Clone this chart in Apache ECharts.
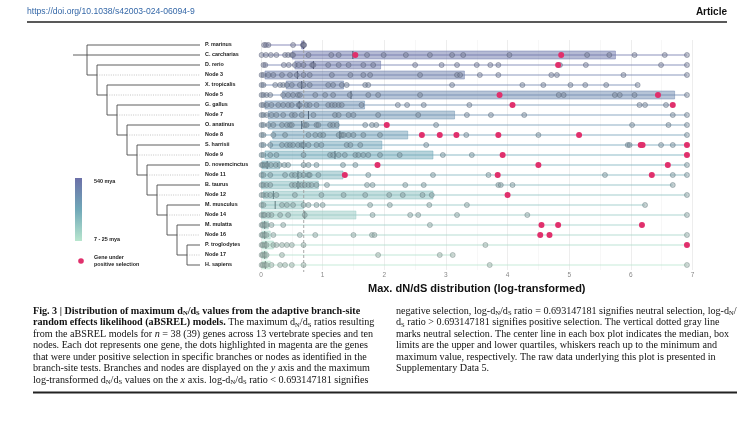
<!DOCTYPE html>
<html><head><meta charset="utf-8">
<script src="https://cdn.jsdelivr.net/npm/echarts@6/dist/echarts.min.js"></script>
<style>html,body{margin:0;padding:0;background:#fff}#c{width:755px;height:421px}</style>
</head><body><div id="c"></div>
<script>
// ---------- data ----------
const rowNames = ['P. marinus','C. carcharias','D. rerio','Node 3','X. tropicalis','Node 5','G. gallus','Node 7','O. anatinus','Node 8','S. harrisii','Node 9','D. novemcinctus','Node 11','B. taurus','Node 12','M. musculus','Node 14','M. mulatta','Node 16','P. troglodytes','Node 17','H. sapiens'];

const greyDots = [
  [0.05,0.08,0.12,0.52,0.68,0.69,0.70],
  [0.01,0.08,0.16,0.25,0.39,0.44,0.5,0.52,0.77,1.14,1.26,1.72,1.99,2.35,2.74,3.10,3.28,4.03,5.29,5.65,6.06,6.55,6.91],
  [0.04,0.07,0.37,0.45,0.55,0.61,0.69,0.83,0.85,1.09,1.26,1.42,1.66,1.82,2.5,2.93,3.18,3.5,3.72,3.85,4.85,5.27,6.49,6.91],
  [0.01,0.04,0.12,0.2,0.34,0.47,0.58,0.69,0.79,1.15,1.45,1.66,1.77,2.58,3.18,3.23,3.55,3.85,4.71,4.80,5.88,6.91],
  [0.01,0.04,0.23,0.31,0.36,0.42,0.5,0.63,0.69,0.79,1.09,1.17,1.31,1.39,1.69,1.74,3.10,4.24,4.58,5.02,5.26,5.6,6.11],
  [0.01,0.04,0.09,0.15,0.36,0.44,0.52,0.6,0.63,0.88,1.04,1.17,1.44,1.74,1.9,2.58,4.83,4.91,5.74,5.82,6.06,6.91],
  [0.01,0.04,0.09,0.17,0.28,0.36,0.44,0.5,0.61,0.63,0.74,0.79,0.9,1.09,1.15,1.2,1.26,1.31,1.63,2.22,2.37,2.64,3.38,6.14,6.23,6.57],
  [0.01,0.04,0.09,0.17,0.25,0.36,0.5,0.55,0.66,0.85,1.2,1.26,1.42,1.5,1.9,2.55,3.34,3.73,4.27,6.68,6.91],
  [0.01,0.04,0.12,0.2,0.34,0.42,0.47,0.5,0.71,0.74,0.9,0.93,1.12,1.17,1.23,1.69,1.8,1.87,2.84,6.02,6.61,6.91],
  [0.01,0.04,0.2,0.39,0.77,0.88,0.96,1.01,1.26,1.31,1.34,1.42,1.5,1.66,1.93,3.33,4.5,6.91],
  [0.01,0.04,0.15,0.34,0.42,0.47,0.52,0.6,0.66,0.69,0.77,0.9,0.98,1.39,1.45,1.61,2.68,5.95,5.98,6.49,6.68],
  [0.01,0.04,0.15,0.25,0.69,1.12,1.17,1.26,1.36,1.53,1.58,1.66,1.74,1.93,2.25,2.95,3.42],
  [0.01,0.03,0.06,0.1,0.16,0.24,0.3,0.38,0.44,0.69,0.77,0.9,1.33,1.53,6.91],
  [0.01,0.04,0.15,0.39,0.5,0.55,0.63,0.69,0.77,0.79,0.93,1.74,2.79,3.69,5.58,6.68,6.91],
  [0.01,0.04,0.09,0.15,0.5,0.55,0.61,0.66,0.71,0.77,0.82,0.9,1.07,1.72,1.81,2.34,2.64,3.85,3.89,4.08,6.68],
  [0.01,0.04,0.09,0.15,0.25,0.55,0.98,1.34,1.69,2.08,2.3,2.62,2.77,6.91],
  [0.01,0.04,0.34,0.42,0.52,0.69,0.77,0.9,1.0,1.77,2.09,2.73,3.34,6.23],
  [0.01,0.04,0.06,0.12,0.17,0.31,0.44,0.71,1.81,2.42,2.55,3.18,4.32,6.91],
  [0.01,0.03,0.06,0.09,0.17,0.36,2.74],
  [0.01,0.03,0.06,0.09,0.2,0.63,0.88,1.5,1.8,1.84,6.91],
  [0.01,0.03,0.06,0.09,0.2,0.25,0.34,0.42,0.5,0.69,3.64],
  [0.01,0.03,0.06,0.09,0.34,1.9,2.9,3.11],
  [0.01,0.03,0.06,0.09,0.17,0.31,0.39,0.5,0.69,3.71,6.91]
];

const positiveDots = [
  [], [1.53,4.87], [4.82], [], [], [3.87,6.44], [4.08,6.68], [], [2.04], [2.61,2.9,3.17,3.85,5.16],
  [6.16,6.19,6.91], [3.92,6.91], [1.89,4.5,6.6], [1.36,3.84,6.34], [], [4.0], [], [],
  [4.55,4.82,6.18], [4.53,4.68], [6.91], [], []
];

const boxQ1     = [0.66,0.51,0.55,0.065,0.41,0.35,0.065,0.12,0.12,0.19,0.15,0.065,0.02,0.01,0.01,0.04,0.01,0.01,0.02,0.02,0.02,0.02,0.02];
const boxMedian = [0.69,1.49,0.85,0.59,0.66,1.46,0.62,0.77,0.66,1.28,0.69,1.20,0.10,0.60,0.60,0.20,0.23,0.71,0.06,0.06,0.08,0.06,0.07];
const boxQ3     = [0.70,5.75,1.94,3.30,1.34,6.71,1.68,3.14,1.26,2.38,1.96,2.79,0.30,1.33,0.93,2.79,0.69,1.54,0.12,0.15,0.20,0.10,0.15];

const xTicks = [0,1,2,3,4,5,6,7];
const neutralRatio = 0.693147181;

// tree (ladder): clade node depth, species row on top, row of lower child
const cladeLevel     = [0,1,2,3,4,5,6,7,8,9,10];
const cladeTopRow    = [0,2,4,6,8,10,12,14,16,18,20];
const cladeBottomRow = [3,5,7,9,11,13,15,17,19,21,22];
const outgroupRow = 1, outgroupLevel = -1.4, tipLevel = 11.3;

const legendTexts = ['540 mya','7 - 25 mya','Gene under','positive selection'];

// ---------- styling helpers ----------
function mix(a,b,t){return a.map((v,k)=>Math.round(v+(b[k]-v)*t));}
function rgba(c,a){return 'rgba('+c[0]+','+c[1]+','+c[2]+','+a+')';}
const stops = [[108,112,168],[112,168,184],[184,230,206]];
function rowRGB(i){
  const t = i/(rowNames.length-1);
  return t<0.5 ? mix(stops[0],stops[1],t/0.5) : mix(stops[1],stops[2],(t-0.5)/0.5);
}
const MAG = '#e0306c';

// ---------- series data ----------
const boxData = rowNames.map((_,i)=>{
  const all = greyDots[i].concat(positiveDots[i]);
  return [Math.min.apply(null,all), i, boxQ1[i], boxMedian[i], boxQ3[i], Math.max.apply(null,all)];
});
const greyData = [];
greyDots.forEach((arr,i)=>arr.forEach(v=>{
  const c = rowRGB(i);
  greyData.push({value:[v,i], itemStyle:{
    color: rgba(mix(c,[140,142,146],0.62),0.6),
    borderColor: rgba(mix(c,[60,62,70],0.55),0.8), borderWidth:0.7}});
}));
const posData = [];
positiveDots.forEach((arr,i)=>arr.forEach(v=>posData.push([v,i])));
const treeData = cladeLevel.map((l,k)=>[l, cladeTopRow[k], cladeBottomRow[k]]);
treeData.push([outgroupLevel, outgroupRow, outgroupRow]);

const serif = 'Liberation Serif';
const FS = 10.15;
const capRich = {
  b:{fontFamily:serif,fontWeight:'bold',fontSize:FS,lineHeight:12,fill:'#111'},
  bs:{fontFamily:serif,fontWeight:'bold',fontSize:6.6,lineHeight:6,verticalAlign:'bottom',fill:'#111'},
  n:{fontFamily:serif,fontSize:FS,lineHeight:12,fill:'#111'},
  s:{fontFamily:serif,fontSize:6.6,lineHeight:6,verticalAlign:'bottom',fill:'#111'},
  i:{fontFamily:serif,fontStyle:'italic',fontSize:FS,lineHeight:12,fill:'#111'}
};
const capLeft = [
  '{b|Fig. 3 | Distribution of maximum d}{bs|N}{b|/d}{bs|S}{b| values from the adaptive branch-site}',
  '{b|random effects likelihood (aBSREL) models.}{n| The maximum d}{s|N}{n|/d}{s|S}{n| ratios resulting}',
  '{n|from the aBSREL models for }{i|n}{n| = 38 (39) genes across 13 vertebrate species and ten}',
  '{n|nodes. Each dot represents one gene, the dots highlighted in magenta are the genes}',
  '{n|that were under positive selection in specific branches or nodes as identified in the}',
  '{n|branch-site tests. Branches and nodes are displayed on the }{i|y}{n| axis and the maximum}',
  '{n|log-transformed d}{s|N}{n|/d}{s|S}{n| values on the }{i|x}{n| axis. log-d}{s|N}{n|/d}{s|S}{n| ratio < 0.693147181 signifies}'
];
const capRight = [
  '{n|negative selection, log-d}{s|N}{n|/d}{s|S}{n| ratio = 0.693147181 signifies neutral selection, log-d}{s|N}{n|/}',
  '{n|d}{s|S}{n| ratio > 0.693147181 signifies positive selection. The vertical dotted gray line}',
  '{n|marks neutral selection. The center line in each box plot indicates the median, box}',
  '{n|limits are the upper and lower quartiles, whiskers reach up to the minimum and}',
  '{n|maximum value, respectively. The raw data underlying this plot is presented in}',
  '{n|Supplementary Data 5.}'
];
const capY0 = 311, capDy = 11.5;
const graphics = [];
capLeft.forEach((t,k)=>graphics.push({type:'text',x:33,y:capY0+k*capDy,style:{text:t,rich:capRich,verticalAlign:'middle',align:'left'}}));
capRight.forEach((t,k)=>graphics.push({type:'text',x:396,y:capY0+k*capDy,style:{text:t,rich:capRich,verticalAlign:'middle',align:'left'}}));
graphics.push(
  {type:'text',x:27,y:12,style:{text:'https://doi.org/10.1038/s42003-024-06094-9',font:'8.6px "Liberation Sans"',fill:'#3568a8',verticalAlign:'middle'}},
  {type:'text',x:727,y:12,style:{text:'Article',font:'bold 10px "Liberation Sans"',fill:'#111',align:'right',verticalAlign:'middle'}},
  {type:'line',shape:{x1:27,y1:22,x2:727,y2:22},style:{stroke:'#222',lineWidth:1.3}},
  {type:'line',shape:{x1:33,y1:392.5,x2:737,y2:392.5},style:{stroke:'#222',lineWidth:2}},
  {type:'rect',shape:{x:75,y:178,width:7,height:63},style:{fill:new echarts.graphic.LinearGradient(0,0,0,1,[
    {offset:0,color:rgba(stops[0],1)},{offset:0.5,color:rgba(stops[1],1)},{offset:1,color:rgba(stops[2],1)}])}},
  {type:'text',x:94,y:182,style:{text:legendTexts[0],font:'bold 5.4px "Liberation Sans"',fill:'#222',verticalAlign:'middle'}},
  {type:'text',x:94,y:240,style:{text:legendTexts[1],font:'bold 5.4px "Liberation Sans"',fill:'#222',verticalAlign:'middle'}},
  {type:'circle',shape:{cx:81,cy:261,r:2.8},style:{fill:MAG}},
  {type:'text',x:94,y:258,style:{text:legendTexts[2],font:'bold 5.4px "Liberation Sans"',fill:'#222',verticalAlign:'middle'}},
  {type:'text',x:94,y:264.5,style:{text:legendTexts[3],font:'bold 5.4px "Liberation Sans"',fill:'#222',verticalAlign:'middle'}}
);

const option = {
  animation:false,
  textStyle:{fontFamily:'Liberation Sans'},
  grid:[
    {left:261, top:40, width:431.5, height:230},
    {left:73, top:40, width:127, height:230}
  ],
  xAxis:[
    {type:'value', gridIndex:0, min:xTicks[0], max:xTicks[xTicks.length-1], interval:1,
     axisLine:{show:false}, axisTick:{show:false},
     axisLabel:{fontSize:6.5, color:'#888', margin:2},
     splitLine:{show:true, lineStyle:{color:'#e8e8e8', width:0.8}},
     minorTick:{show:false, splitNumber:2},
     minorSplitLine:{show:true, lineStyle:{color:'#f3f3f3', width:0.7}},
     name:'Max. dN/dS distribution (log-transformed)', nameLocation:'middle', nameGap:10,
     nameTextStyle:{fontSize:11, fontWeight:'bold', color:'#111', fontFamily:'Liberation Sans'}},
    {type:'value', gridIndex:1, min:outgroupLevel, max:tipLevel, show:false}
  ],
  yAxis:[
    {type:'category', gridIndex:0, data:rowNames, inverse:true,
     axisLine:{show:false}, axisTick:{show:false}, splitLine:{show:false},
     axisLabel:{align:'left', margin:56, fontSize:5.4, fontWeight:'bold', color:'#222'}},
    {type:'category', gridIndex:1, data:rowNames, inverse:true, show:false}
  ],
  graphic:graphics,
  series:[
    {type:'custom', xAxisIndex:1, yAxisIndex:1, data:treeData, encode:{x:0,y:[1,2]}, silent:true,
     renderItem:function(params, api){
       const lvl = api.value(0), top = api.value(1), bot = api.value(2);
       const P = (x,r)=>api.coord([x,r]);
       const solid = {stroke:'#4d4d4d', lineWidth:0.9, fill:null};
       const dotted = {stroke:'#b5b5b5', lineWidth:0.8, lineDash:[1,1.3], fill:null};
       const L = (a,b,st)=>({type:'line', shape:{x1:a[0],y1:a[1],x2:b[0],y2:b[1]}, style:st});
       const ch = [];
       ch.push(L(P(lvl,top), P(tipLevel,top), solid));
       if (bot !== top) {
         ch.push(L(P(lvl,top), P(lvl,bot), solid));
         if (rowNames[bot].indexOf('Node') === 0) {
           ch.push(L(P(lvl,bot), P(lvl+1,bot), solid));
           ch.push(L(P(lvl+1,bot), P(tipLevel,bot), dotted));
         } else {
           ch.push(L(P(lvl,bot), P(tipLevel,bot), solid));
         }
       }
       return {type:'group', children:ch};
     }},
    {type:'custom', xAxisIndex:0, yAxisIndex:0, data:boxData, encode:{x:[0,2,3,4,5], y:1}, silent:true,
     renderItem:function(params, api){
       const i = api.value(1);
       const X = v=>api.coord([v,i])[0];
       const yc = api.coord([0,i])[1];
       const bh = api.size([0,1])[1]*0.8;
       const c = rowRGB(i);
       return {type:'group', children:[
         {type:'line', shape:{x1:X(api.value(0)),y1:yc,x2:X(api.value(5)),y2:yc}, style:{stroke:rgba(c,0.78), lineWidth:1.2}},
         {type:'rect', shape:{x:X(api.value(2)), y:yc-bh/2, width:X(api.value(4))-X(api.value(2)), height:bh},
          style:{fill:rgba(c,0.5), stroke:rgba(c,0.8), lineWidth:0.6}},
         {type:'line', shape:{x1:X(api.value(3)),y1:yc-bh/2,x2:X(api.value(3)),y2:yc+bh/2}, style:{stroke:rgba(mix(c,[30,30,40],0.5),0.9), lineWidth:1}}
       ]};
     }},
    {type:'custom', xAxisIndex:0, yAxisIndex:0, data:[[neutralRatio,0]], encode:{x:0,y:1}, silent:true,
     renderItem:function(params, api){
       const cs = params.coordSys;
       const x = api.coord([api.value(0),0])[0];
       return {type:'line', shape:{x1:x,y1:cs.y,x2:x,y2:cs.y+cs.height+2}, style:{stroke:'#9c9c9c', lineWidth:0.9, lineDash:[3,2]}};
     }},
    {type:'scatter', xAxisIndex:0, yAxisIndex:0, data:greyData, symbolSize:5, silent:true},
    {type:'scatter', xAxisIndex:0, yAxisIndex:0, data:posData, symbolSize:6, silent:true,
     itemStyle:{color:MAG, opacity:1}}
  ]
};
const chart = echarts.init(document.getElementById('c'));
chart.setOption(option);
</script>
</body></html>
